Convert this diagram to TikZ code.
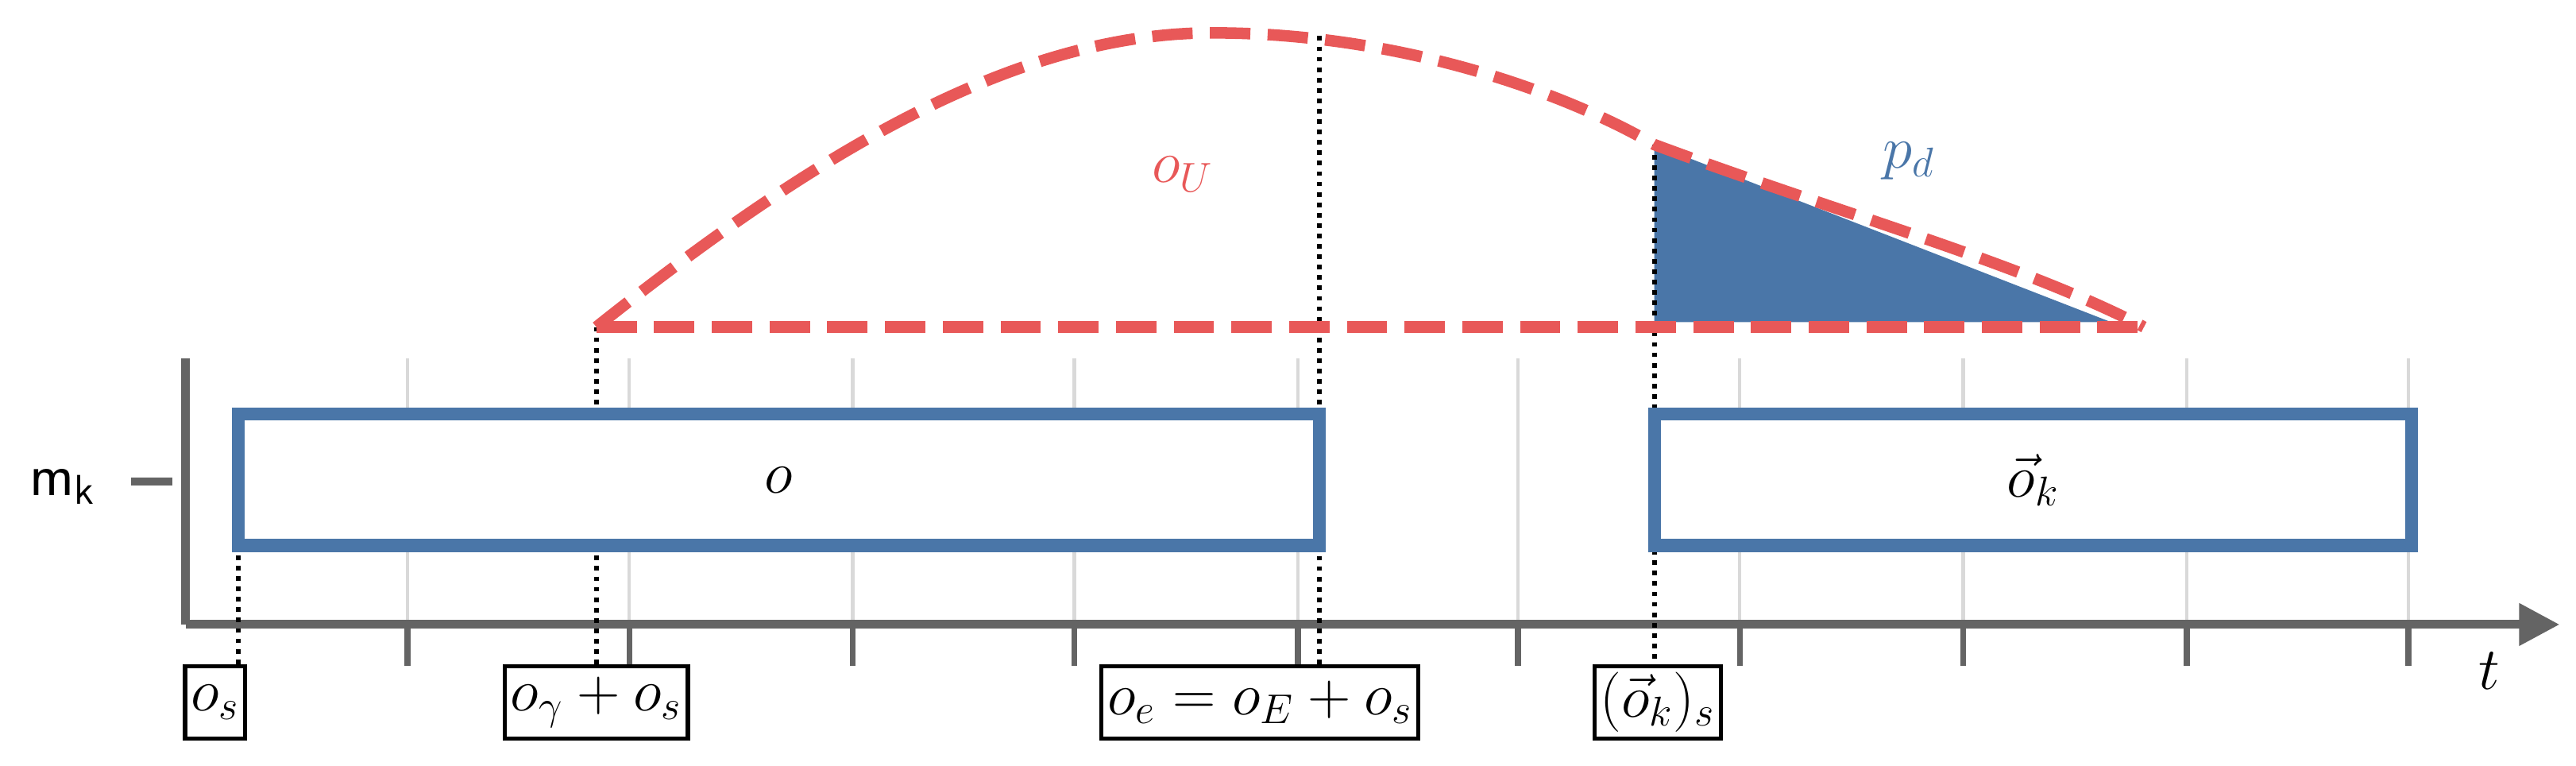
\documentclass[tikz,border=0pt]{standalone}
\usepackage{amsmath}
\usetikzlibrary{arrows.meta, positioning}
\definecolor{ublue}{RGB}{74,118,168}
\definecolor{ured}{RGB}{232,88,88}
\definecolor{axgray}{RGB}{100,100,100}
\begin{document}
\begin{tikzpicture}[x=0.02cm, y=-0.02cm,
            bar/.style={rectangle, draw=ublue, fill=white, line width=4.5pt, minimum height=1.6cm, inner sep=0pt, font=\huge},
            lab/.style={rectangle, draw, fill=white, line width=1.4pt, inner sep=2pt, minimum height=0.88cm, font=\huge, anchor=north},
            drop/.style={dotted, line width=1.6pt},
            est/.style={ured, dashed, line width=4pt, dash pattern=on 14pt off 6pt}
        ]
            \useasboundingbox (0,0) rectangle (1568,466);

            % grid and ticks
            \foreach \x in {248,383,519,654,790,924,1059,1195,1331,1466} {
                \draw[black!15, line width=1.2pt] (\x,218) -- (\x,380);
                \draw[axgray, line width=2pt] (\x,380) -- (\x,405);
            }
            \coordinate (O) at (113,380);
            \coordinate (Y) at (113,218);
            \coordinate (X) at (1558,380);
            \draw[axgray, line width=3pt] (Y) -- (O);
            \draw[axgray, line width=3pt, -{Triangle[length=14pt, width=14pt]}] (O) -- (X);
            \node[font=\huge] (t) at (1515,408) {$t$};

            \node[font=\huge\sffamily] (mk) at (38,296) {m\textsubscript{k}};
            \coordinate (mk1) at (80,293);
            \coordinate (mk2) at (105,293);
            \draw[axgray, line width=3pt] (mk1) -- (mk2);

            % utility curve
            \coordinate (g) at (363,199);
            \coordinate (pk) at (738,20);
            \coordinate (e) at (803,22);
            \coordinate (k) at (1007,88);
            \coordinate (d) at (1305,199);

            % drop lines
            \coordinate (s0) at (145,300);
            \draw[drop] (s0) -- (145,405);
            \draw[drop] (g) -- (363,405);
            \draw[drop] (e) -- (803,405);
            \draw[drop] (k) -- (1007,405);

            % bars
            \node[bar, minimum width=13.16cm] (o) at (474,292) {$o$};
            \node[bar, minimum width=9.22cm] (ok) at (1237.5,292) {$\vec{o}_k$};

            \fill[ublue] (k) -- (1007,196) -- (1285,196) -- cycle;
            \draw[drop] (k) -- (1007,199);
            \draw[est] (g) .. controls (500,90) and (620,20) .. (pk)
                .. controls (850,20) and (950,55) .. (k)
                .. controls (1120,130) and (1230,160) .. (d);
            \draw[est] (g) -- (d);
            \node[ured, font=\huge] (oU) at (720,106) {$o_U$};
            \node[ublue, font=\huge] (pd) at (1162,98) {$p_d$};

            % labels
            \node[lab] (os) at (131,404) {$o_s$};
            \node[lab] (og) at (363,404) {$o_\gamma + o_s$};
            \node[lab] (oe) at (767,404) {$o_e = o_E + o_s$};
            \node[lab] (oks) at (1009,404) {$(\vec{o}_k)_s$};
        \end{tikzpicture}
\end{document}
